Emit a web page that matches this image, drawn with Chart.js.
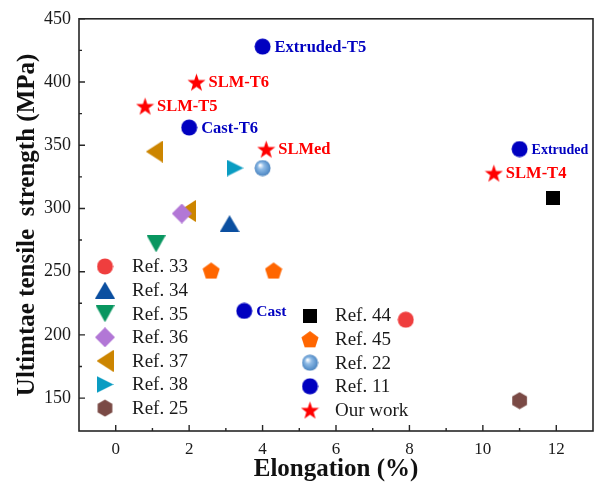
<!DOCTYPE html>
<html>
<head>
<meta charset="utf-8">
<script src="https://cdn.jsdelivr.net/npm/chart.js@4/dist/chart.umd.min.js"></script>
<style>
  html, body { margin: 0; padding: 0; background: #fff; overflow: hidden; }
  #wrap { position: relative; width: 598px; height: 485px; }
  #uts { display: block; }
</style>
</head>
<body>
<div id="wrap"><canvas id="uts"></canvas></div>
<script>
// Data: [elongation %, UTS MPa]
var ref33Pts = [[7.9, 212]];
var ref34Pts = [[3.1, 288]];
var ref35Pts = [[1.1, 272]];
var ref36Pts = [[1.8, 296]];
var ref37Pts = [[1.05, 345], [1.95, 298]];
var ref38Pts = [[3.25, 332]];
var ref25Pts = [[11.0, 148]];
var ref44Pts = [[11.9, 308]];
var ref45Pts = [[2.6, 251], [4.3, 251]];
var ref22Pts = [[4.0, 332]];
var ref11Pts = [[4.0, 428], [2.0, 364], [3.5, 219], [11.0, 347]];
var ourPts = [[2.2, 400], [0.8, 381], [4.1, 347], [10.3, 328]];

// Point labels
var ref11Labels = ["Extruded-T5", "Cast-T6", "Cast", "Extruded"];
var ourLabels = ["SLM-T6", "SLM-T5", "SLMed", "SLM-T4"];

// Axis ticks
var xTicks = [0, 2, 4, 6, 8, 10, 12];
var xMinor = [1, 3, 5, 7, 9, 11];
var yTicks = [150, 200, 250, 300, 350, 400, 450];
var yMinor = [175, 225, 275, 325, 375, 425];

var SERIF = "'Liberation Serif', 'Times New Roman', serif";

// Marker images (used as pointStyle and for the legend)
function makeMarker(shape, color, w, h) {
  var c = document.createElement("canvas");
  c.width = w;
  c.height = h;
  var ctx = c.getContext("2d");
  var cx = w / 2, cy = h / 2, r = Math.min(w, h) / 2;
  ctx.fillStyle = color;
  ctx.beginPath();
  if (shape === "circle") {
    ctx.arc(cx, cy, r - 0.5, 0, Math.PI * 2);
  } else if (shape === "square") {
    ctx.rect(0, 0, w, h);
  } else if (shape === "up") {
    ctx.moveTo(cx, 0); ctx.lineTo(w, h); ctx.lineTo(0, h);
  } else if (shape === "down") {
    ctx.moveTo(0, 0); ctx.lineTo(w, 0); ctx.lineTo(cx, h);
  } else if (shape === "left") {
    ctx.moveTo(0, cy); ctx.lineTo(w, 0); ctx.lineTo(w, h);
  } else if (shape === "right") {
    ctx.moveTo(w, cy); ctx.lineTo(0, 0); ctx.lineTo(0, h);
  } else if (shape === "diamond") {
    ctx.moveTo(cx, 0); ctx.lineTo(w, cy); ctx.lineTo(cx, h); ctx.lineTo(0, cy);
  } else if (shape === "pentagon") {
    for (var i = 0; i < 5; i++) {
      var a = -Math.PI / 2 + i * 2 * Math.PI / 5;
      ctx.lineTo(cx + r * Math.cos(a), cy + 1 + r * Math.sin(a));
    }
  } else if (shape === "hexagon") {
    for (var j = 0; j < 6; j++) {
      var b = -Math.PI / 2 + j * Math.PI / 3;
      ctx.lineTo(cx + r * Math.cos(b), cy + r * Math.sin(b));
    }
  } else if (shape === "star") {
    for (var k = 0; k < 10; k++) {
      var t = -Math.PI / 2 + k * Math.PI / 5;
      var rr = k % 2 === 0 ? r : r * 0.4;
      ctx.lineTo(cx + rr * Math.cos(t), cy + 1 + rr * Math.sin(t));
    }
  } else if (shape === "ball") {
    var g = ctx.createRadialGradient(cx - r * 0.3, cy - r * 0.35, 0.5, cx, cy, r);
    g.addColorStop(0, "#ffffff");
    g.addColorStop(0.35, "#8fbbe6");
    g.addColorStop(0.8, "#5b93cc");
    g.addColorStop(1, "#4a7fb8");
    ctx.fillStyle = g;
    ctx.arc(cx, cy, r - 0.5, 0, Math.PI * 2);
  }
  ctx.closePath();
  ctx.fill();
  return c;
}

var series = [
  { name: "Ref. 33", pts: ref33Pts, img: makeMarker("circle", "#ef3e3e", 17, 17) },
  { name: "Ref. 34", pts: ref34Pts, img: makeMarker("up", "#0b4fa0", 20, 17) },
  { name: "Ref. 35", pts: ref35Pts, img: makeMarker("down", "#089660", 19, 17) },
  { name: "Ref. 36", pts: ref36Pts, img: makeMarker("diamond", "#b277d6", 20, 20) },
  { name: "Ref. 37", pts: ref37Pts, img: makeMarker("left", "#cc8500", 17, 22) },
  { name: "Ref. 38", pts: ref38Pts, img: makeMarker("right", "#0a9cc2", 17, 17) },
  { name: "Ref. 25", pts: ref25Pts, img: makeMarker("hexagon", "#7a4a45", 17, 18) },
  { name: "Ref. 44", pts: ref44Pts, img: makeMarker("square", "#000000", 14, 14) },
  { name: "Ref. 45", pts: ref45Pts, img: makeMarker("pentagon", "#ff6600", 18, 18) },
  { name: "Ref. 22", pts: ref22Pts, img: makeMarker("ball", "#5b93cc", 17, 17) },
  { name: "Ref. 11", pts: ref11Pts, img: makeMarker("circle", "#0000c0", 17, 17), labels: ref11Labels, labelColor: "#0000c0" },
  { name: "Our work", pts: ourPts, img: makeMarker("star", "#ff0000", 19, 19), labels: ourLabels, labelColor: "#ff0000" }
];

var datasets = series.map(function (s) {
  return {
    label: s.name,
    data: s.pts.map(function (p) { return { x: p[0], y: p[1] }; }),
    pointStyle: s.img,
    pointRadius: 9,
    pointHoverRadius: 9
  };
});

// Frame, inward ticks, point labels, two-column legend
var decorPlugin = {
  id: "decor",
  afterDatasetsDraw: function (chart) {
    var ctx = chart.ctx;
    ctx.save();
    ctx.textBaseline = "middle";
    ctx.textAlign = "left";
    series.forEach(function (s, i) {
      if (!s.labels) return;
      var meta = chart.getDatasetMeta(i);
      ctx.fillStyle = s.labelColor;
      meta.data.forEach(function (el, j) {
        var txt = s.labels[j];
        var size = txt === "Extruded" ? 14 : (txt === "Cast" ? 15.5 : 16.5);
        ctx.font = "bold " + size + "px " + SERIF;
        ctx.fillText(txt, el.x + 12, el.y + 1);
      });
    });
    ctx.restore();
  },
  afterDraw: function (chart) {
    var ctx = chart.ctx;
    var a = chart.chartArea;
    var xs = chart.scales.x, ys = chart.scales.y;
    ctx.save();
    ctx.strokeStyle = "#262626";
    ctx.lineWidth = 1.6;
    ctx.strokeRect(a.left, a.top, a.right - a.left, a.bottom - a.top);

    ctx.lineWidth = 1.4;
    ctx.beginPath();
    xTicks.forEach(function (v) {
      var px = xs.getPixelForValue(v);
      ctx.moveTo(px, a.bottom); ctx.lineTo(px, a.bottom - 6);
    });
    xMinor.forEach(function (v) {
      var px = xs.getPixelForValue(v);
      ctx.moveTo(px, a.bottom); ctx.lineTo(px, a.bottom - 3);
    });
    yTicks.forEach(function (v) {
      var py = ys.getPixelForValue(v);
      ctx.moveTo(a.left, py); ctx.lineTo(a.left + 6, py);
    });
    yMinor.forEach(function (v) {
      var py = ys.getPixelForValue(v);
      ctx.moveTo(a.left, py); ctx.lineTo(a.left + 3, py);
    });
    ctx.stroke();

    // legend: 7 entries left column, 5 entries right column
    ctx.font = "19px " + SERIF;
    ctx.fillStyle = "#1a1a1a";
    ctx.textBaseline = "middle";
    ctx.textAlign = "left";
    series.forEach(function (s, i) {
      var col = i < 7 ? 0 : 1;
      var row = col === 0 ? i : i - 7;
      var mx = col === 0 ? 105 : 310;
      var my = (col === 0 ? 266.5 : 315.5) + row * 23.6;
      ctx.drawImage(s.img, mx - s.img.width / 2, my - s.img.height / 2);
      ctx.fillText(s.name, col === 0 ? 132 : 335, my + 1);
    });
    ctx.restore();
  }
};

new Chart(document.getElementById("uts"), {
  type: "scatter",
  data: { datasets: datasets },
  options: {
    responsive: true,
    maintainAspectRatio: false,
    animation: false,
    layout: { autoPadding: false, padding: { top: 17, right: 5, left: 0, bottom: 0 } },
    plugins: {
      legend: { display: false },
      tooltip: { enabled: false }
    },
    scales: {
      x: {
        min: -1,
        max: 13,
        afterBuildTicks: function (scale) {
          scale.ticks = xTicks.map(function (v) { return { value: v }; });
        },
        afterFit: function (scale) { scale.height = 54; },
        grid: { display: false, drawTicks: false },
        border: { display: false },
        ticks: {
          padding: 8,
          color: "#1a1a1a",
          font: { family: SERIF, size: 17 }
        },
        title: {
          display: true,
          text: "Elongation (%)",
          color: "#111",
          font: { family: SERIF, size: 25, weight: "bold" },
          padding: { top: 0, bottom: 0 }
        }
      },
      y: {
        min: 124,
        max: 450,
        afterBuildTicks: function (scale) {
          scale.ticks = yTicks.map(function (v) { return { value: v }; });
        },
        afterFit: function (scale) { scale.width = 79; },
        grid: { display: false, drawTicks: false },
        border: { display: false },
        ticks: {
          padding: 8,
          color: "#1a1a1a",
          font: { family: SERIF, size: 18 }
        },
        title: {
          display: true,
          text: "Ultimtae tensile  strength (MPa)",
          color: "#111",
          font: { family: SERIF, size: 25, weight: "bold" },
          padding: { top: 13, bottom: 0 }
        }
      }
    }
  },
  plugins: [decorPlugin]
});
</script>
</body>
</html>
